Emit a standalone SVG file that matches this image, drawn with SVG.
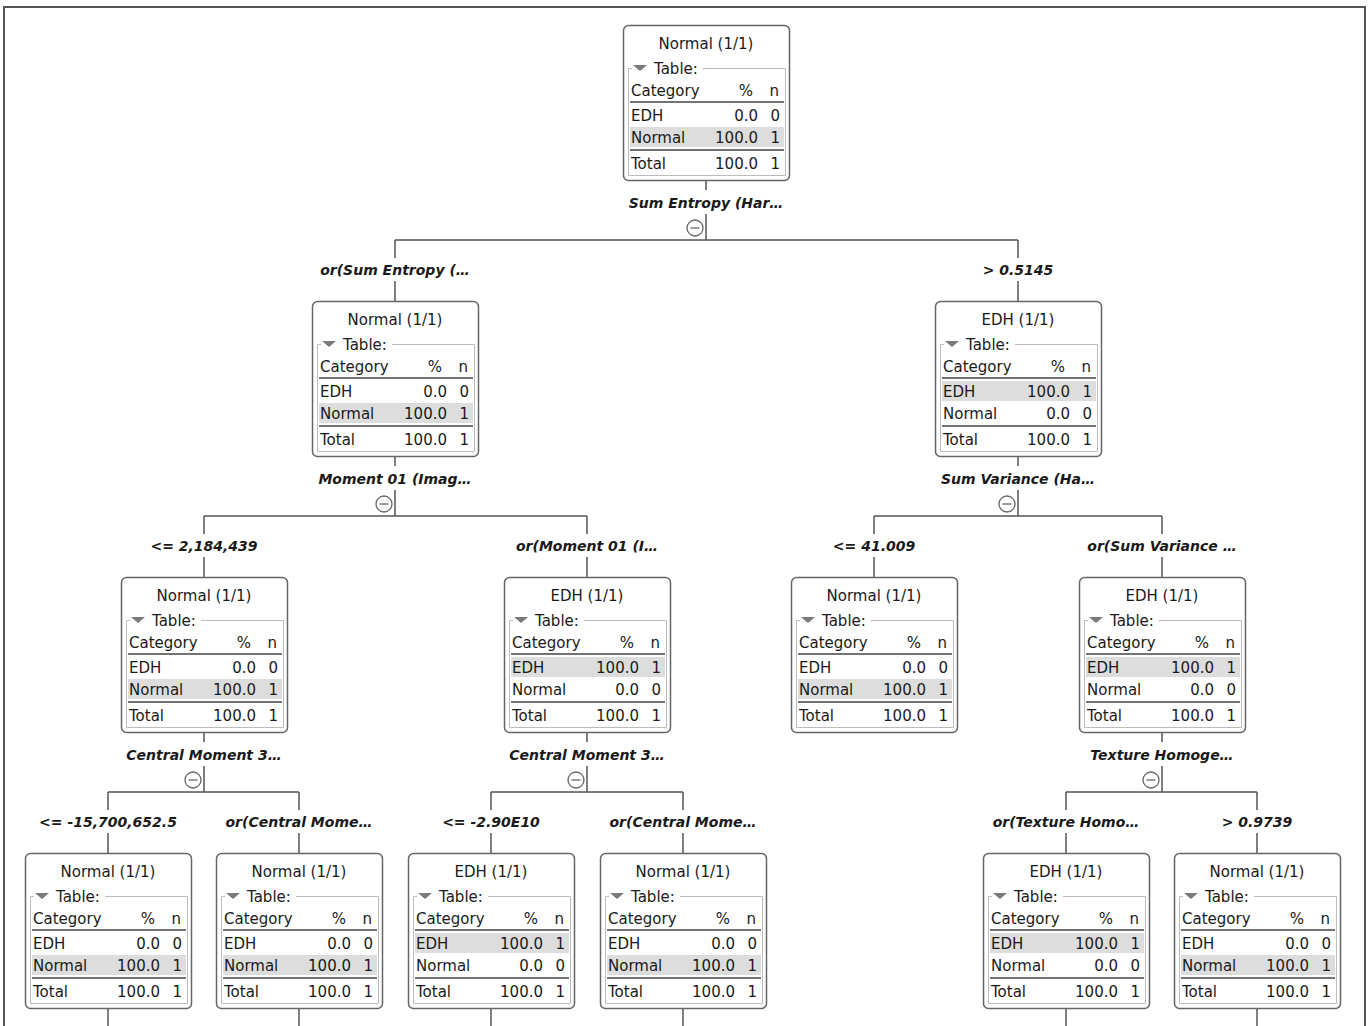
<svg xmlns="http://www.w3.org/2000/svg" width="1371" height="1026" viewBox="0 0 1371 1026">
<style>
text{font-family:"DejaVu Sans","Liberation Sans",sans-serif;font-size:15px;fill:#1a1a1a}
.t{text-anchor:middle}
.r{text-anchor:end}
.lbl{font-weight:bold;font-style:italic;font-size:14px;text-anchor:middle}
.box{fill:#fff;stroke:#666;stroke-width:1.5}
.fs{fill:none;stroke:#bdbdbd;stroke-width:1}
.hl{fill:#dddddd}
.rule{stroke:#444;stroke-width:1.5}
.tri{fill:#7a7a7a}
.c{fill:none;stroke:#555;stroke-width:1.5}
.cir{fill:#fff;stroke:#666;stroke-width:1.3}
</style>
<defs>
<g id="frame">
<rect class="box" x="0.5" y="0.5" width="166" height="155" rx="5"/>
<path class="fs" d="M9,43.5 H5.5 V150.5 H162.5 V43.5 H80"/>
<polygon class="tri" points="10,40 24,40 17,46"/>
<text x="31" y="49">Table:</text>
<text x="8" y="71">Category</text>
<text class="r" x="130" y="71">%</text>
<text class="r" x="156" y="71">n</text>
<line class="rule" x1="7" y1="77" x2="161" y2="77"/>
<line class="rule" x1="7" y1="125" x2="161" y2="125"/>
<text x="8" y="144">Total</text>
<text class="r" x="135" y="144">100.0</text>
<text class="r" x="157" y="144">1</text>
</g>
<g id="normal">
<use href="#frame"/>
<rect class="hl" x="7" y="102" width="154" height="20"/>
<text class="t" x="83" y="24">Normal (1/1)</text>
<text x="8" y="96">EDH</text>
<text class="r" x="135" y="96">0.0</text>
<text class="r" x="157" y="96">0</text>
<text x="8" y="118">Normal</text>
<text class="r" x="135" y="118">100.0</text>
<text class="r" x="157" y="118">1</text>
</g>
<g id="edh">
<use href="#frame"/>
<rect class="hl" x="7" y="80" width="154" height="20"/>
<text class="t" x="83" y="24">EDH (1/1)</text>
<text x="8" y="96">EDH</text>
<text class="r" x="135" y="96">100.0</text>
<text class="r" x="157" y="96">1</text>
<text x="8" y="118">Normal</text>
<text class="r" x="135" y="118">0.0</text>
<text class="r" x="157" y="118">0</text>
</g>
<g id="minus">
<circle class="cir" cx="0" cy="0" r="8"/>
<line x1="-4.5" y1="0" x2="4.5" y2="0" stroke="#666" stroke-width="1.3"/>
</g>
</defs>

<path d="M4,1026 V7 H1365 V1026" fill="none" stroke="#555" stroke-width="2"/>

<g id="connectors">
<path class="c" d="M706,180 V190 M706,214 V240 M395,240 H1018 M395,240 V258 M395,281 V301 M1018,240 V258 M1018,281 V301"/>
<use href="#minus" x="695" y="228"/>
<path class="c" d="M395,456 V466 M395,490 V516 M204,516 H587 M204,516 V534 M204,557 V577 M587,516 V534 M587,557 V577"/>
<use href="#minus" x="384" y="504"/>
<path class="c" d="M1018,456 V466 M1018,490 V516 M874,516 H1162 M874,516 V534 M874,557 V577 M1162,516 V534 M1162,557 V577"/>
<use href="#minus" x="1007" y="504"/>
<path class="c" d="M204,732 V742 M204,766 V792 M108,792 H299 M108,792 V810 M108,833 V853 M299,792 V810 M299,833 V853"/>
<use href="#minus" x="193" y="780"/>
<path class="c" d="M587,732 V742 M587,766 V792 M491,792 H683 M491,792 V810 M491,833 V853 M683,792 V810 M683,833 V853"/>
<use href="#minus" x="576" y="780"/>
<path class="c" d="M1162,732 V742 M1162,766 V792 M1066,792 H1257 M1066,792 V810 M1066,833 V853 M1257,792 V810 M1257,833 V853"/>
<use href="#minus" x="1151" y="780"/>
<path class="c" d="M108,1008 V1026 M299,1008 V1026 M491,1008 V1026 M683,1008 V1026 M1066,1008 V1026 M1257,1008 V1026"/>
</g>

<g id="labels">
<text class="lbl" x="706" y="208">Sum Entropy (Har…</text>
<text class="lbl" x="395" y="275">or(Sum Entropy (…</text>
<text class="lbl" x="1018" y="275">&gt; 0.5145</text>
<text class="lbl" x="395" y="484">Moment 01 (Imag…</text>
<text class="lbl" x="1018" y="484">Sum Variance (Ha…</text>
<text class="lbl" x="204" y="551">&lt;= 2,184,439</text>
<text class="lbl" x="587" y="551">or(Moment 01 (I…</text>
<text class="lbl" x="874" y="551">&lt;= 41.009</text>
<text class="lbl" x="1162" y="551">or(Sum Variance …</text>
<text class="lbl" x="204" y="760">Central Moment 3…</text>
<text class="lbl" x="587" y="760">Central Moment 3…</text>
<text class="lbl" x="1162" y="760">Texture Homoge…</text>
<text class="lbl" x="108" y="827">&lt;= -15,700,652.5</text>
<text class="lbl" x="299" y="827">or(Central Mome…</text>
<text class="lbl" x="491" y="827">&lt;= -2.90E10</text>
<text class="lbl" x="683" y="827">or(Central Mome…</text>
<text class="lbl" x="1066" y="827">or(Texture Homo…</text>
<text class="lbl" x="1257" y="827">&gt; 0.9739</text>
</g>

<g id="node-root" transform="translate(623,25)"><use href="#normal"/></g>
<g id="node-l1a" transform="translate(312,301)"><use href="#normal"/></g>
<g id="node-l1b" transform="translate(935,301)"><use href="#edh"/></g>
<g id="node-l2a" transform="translate(121,577)"><use href="#normal"/></g>
<g id="node-l2b" transform="translate(504,577)"><use href="#edh"/></g>
<g id="node-l2c" transform="translate(791,577)"><use href="#normal"/></g>
<g id="node-l2d" transform="translate(1079,577)"><use href="#edh"/></g>
<g id="node-l3a" transform="translate(25,853)"><use href="#normal"/></g>
<g id="node-l3b" transform="translate(216,853)"><use href="#normal"/></g>
<g id="node-l3c" transform="translate(408,853)"><use href="#edh"/></g>
<g id="node-l3d" transform="translate(600,853)"><use href="#normal"/></g>
<g id="node-l3e" transform="translate(983,853)"><use href="#edh"/></g>
<g id="node-l3f" transform="translate(1174,853)"><use href="#normal"/></g>
</svg>
